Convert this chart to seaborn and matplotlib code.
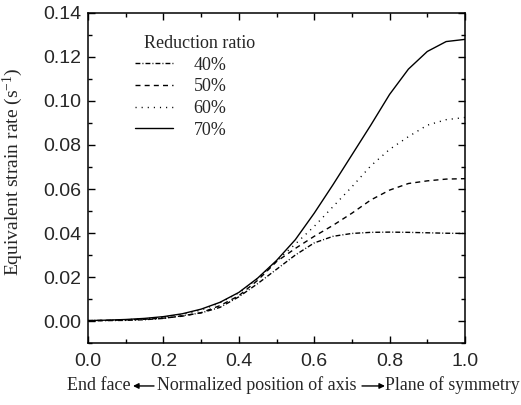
import numpy as np
import pandas as pd
import matplotlib
matplotlib.use("Agg")
import matplotlib.pyplot as plt
import seaborn as sns
from matplotlib.ticker import MultipleLocator

x = [0.0, 0.05, 0.1, 0.15, 0.2, 0.25, 0.3, 0.35, 0.4, 0.45, 0.5,
     0.55, 0.6, 0.65, 0.7, 0.75, 0.8, 0.85, 0.9, 0.95, 1.0]
r40 = [0.0001, 0.0002, 0.0003, 0.0006, 0.0012, 0.0024, 0.0037, 0.0062, 0.011, 0.017, 0.0235,
       0.030, 0.0355, 0.0385, 0.0398, 0.0403, 0.0404, 0.0403, 0.0401, 0.0399, 0.0398]
r50 = [0.0002, 0.0003, 0.0005, 0.0008, 0.0013, 0.0022, 0.0038, 0.007, 0.0115, 0.0185, 0.027,
       0.033, 0.0385, 0.0435, 0.049, 0.055, 0.0595, 0.0625, 0.0637, 0.0645, 0.0647]
r60 = [0.0002, 0.0003, 0.0006, 0.001, 0.0017, 0.003, 0.005, 0.0083, 0.0128, 0.0193, 0.0272,
       0.035, 0.043, 0.052, 0.061, 0.0705, 0.078, 0.0838, 0.089, 0.0915, 0.0925]
r70 = [0.0002, 0.0004, 0.0007, 0.0012, 0.002, 0.0033, 0.0054, 0.0085, 0.013, 0.0195, 0.0275,
       0.037, 0.049, 0.062, 0.0755, 0.089, 0.103, 0.1145, 0.1225, 0.127, 0.128]
labels = ["40%", "50%", "60%", "70%"]

sns.set_theme(style="ticks")
plt.rcParams['font.family'] = ['Liberation Sans', 'DejaVu Sans']
plt.rcParams['xtick.direction'] = 'in'
plt.rcParams['ytick.direction'] = 'in'
plt.rcParams['mathtext.fontset'] = 'custom'
plt.rcParams['mathtext.rm'] = 'Liberation Serif'
plt.rcParams['mathtext.it'] = 'Liberation Serif:italic'
plt.rcParams['mathtext.default'] = 'regular'

fig = plt.figure(figsize=(5.21, 4.05), dpi=100)
ax = fig.add_axes([0.169, 0.153, 0.7235, 0.815])

styles = [(0, (3.5, 1.5, 0.7, 1.5)), (0, (3.6, 3.0)), (0, (0.8, 3.6)), '-']
for lab, ys, ls in zip(labels, [r40, r50, r60, r70], styles):
    df = pd.DataFrame({"x": x, "y": ys})
    sns.lineplot(data=df, x="x", y="y", ax=ax, color="black", lw=1.0,
                 linestyle=ls, label=lab, estimator=None)

ax.set_xlim(0, 1.0)
ax.set_ylim(-0.01, 0.14)
ax.xaxis.set_minor_locator(MultipleLocator(0.1))
ax.yaxis.set_minor_locator(MultipleLocator(0.01))
ax.set_xticks(np.arange(0, 1.01, 0.2))
ax.set_xticklabels([f"{v:.1f}" for v in np.arange(0, 1.01, 0.2)])
ax.set_yticks(np.arange(0, 0.141, 0.02))
ax.set_yticklabels([f"{v:.2f}" for v in np.arange(0, 0.141, 0.02)])
ax.tick_params(which='both', top=True, right=True, labelsize=14, color='black')
ax.tick_params(which='major', length=5, width=1)
ax.tick_params(which='minor', length=3, width=1)
ax.tick_params(axis='x', pad=7)
ax.tick_params(axis='y', pad=5)
for s in ax.spines.values():
    s.set_linewidth(1.1)
    s.set_color('black')

serif = ['Liberation Serif', 'DejaVu Serif']
ax.set_ylabel("Equivalent strain rate (s$^{-1}$)", family=serif, fontsize=14)
ax.yaxis.set_label_coords(-0.167, 0.518)
ax.set_xlabel("")
fs = 13
yb = 0.037
fig.text(0.1286, yb, "End face", family=serif, fontsize=fs, ha='left', va='baseline')
fig.text(0.301, yb, "Normalized position of axis", family=serif, fontsize=fs, ha='left', va='baseline')
fig.text(0.739, yb, "Plane of symmetry", family=serif, fontsize=12.8, ha='left', va='baseline')
ya = 0.047
ax.annotate("", xy=(133 / 521, ya), xytext=(154 / 521, ya), xycoords='figure fraction',
            arrowprops=dict(arrowstyle='-|>', color='black', lw=1, mutation_scale=8,
                            shrinkA=0, shrinkB=0))
ax.annotate("", xy=(385 / 521, ya), xytext=(362 / 521, ya), xycoords='figure fraction',
            arrowprops=dict(arrowstyle='-|>', color='black', lw=1, mutation_scale=8,
                            shrinkA=0, shrinkB=0))

leg = ax.legend(title="  Reduction ratio", loc='upper left', bbox_to_anchor=(0.105, 0.955),
                frameon=False, prop={'family': serif, 'size': fs},
                handlelength=2.1, handletextpad=1.15, labelspacing=0.26, borderaxespad=0)
leg.get_title().set_family(serif)
leg.get_title().set_fontsize(fs)
leg._legend_box.align = "left"

fig.savefig("out.png", dpi=100)
